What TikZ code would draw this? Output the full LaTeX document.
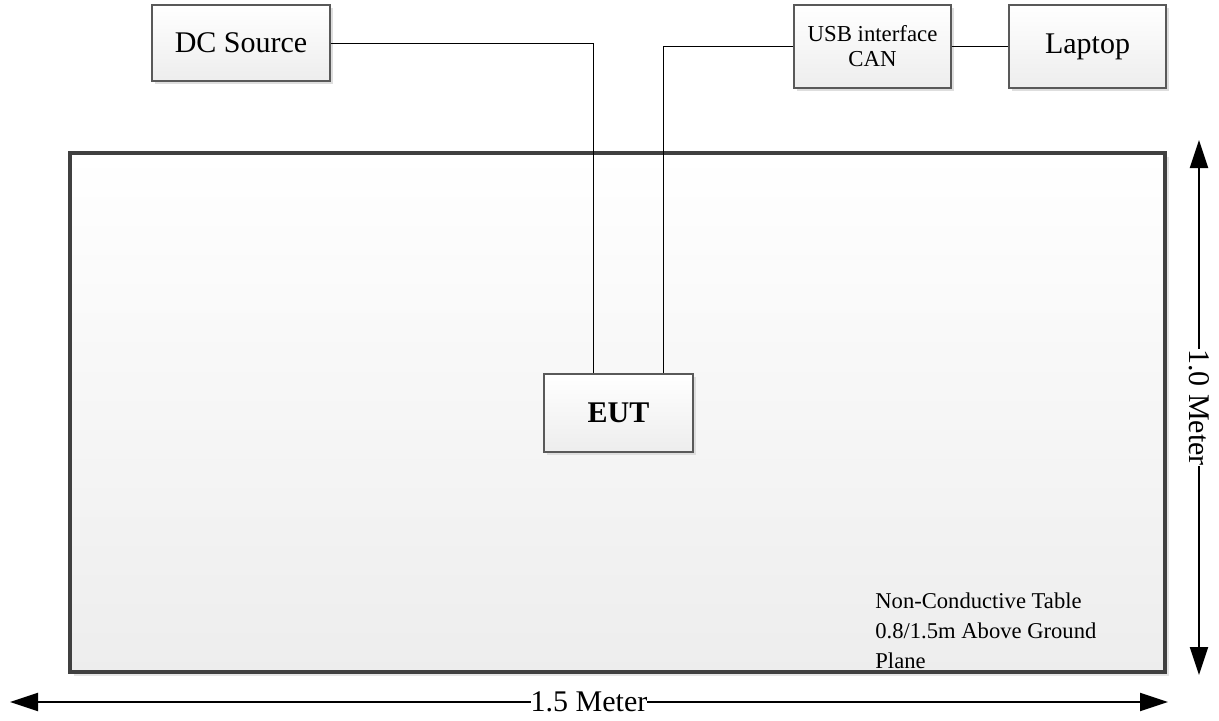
\documentclass[tikz,border=0pt]{standalone}
\usepackage{fontspec}
\setmainfont{Liberation Serif}
\usetikzlibrary{shadows,arrows.meta}

\begin{document}
\begin{tikzpicture}[x=0.5pt,y=-0.5pt,
    unit/.style={draw=black!65,line width=0.6pt,top color=white,bottom color=black!7,
        drop shadow={fill=black!13,opacity=1,shadow xshift=1.5pt,shadow yshift=-1.5pt},
        inner sep=0pt,align=center},
    big/.style={font=\fontsize{15}{18}\selectfont},
    wire/.style={line width=0.5pt},
    dim/.style={line width=1pt,{Triangle[length=14pt,width=9pt]}-{Triangle[length=14pt,width=9pt]}},
    lbl/.style={fill=white,inner sep=0pt,font=\fontsize{15}{18}\selectfont}]
    \useasboundingbox (0,0) rectangle (1219,720);

    % test table
    \node[draw=black!75,line width=2pt,top color=white,bottom color=black!7,
        drop shadow={fill=black!10,opacity=1,shadow xshift=2pt,shadow yshift=-2pt},
        minimum width=547.5pt,minimum height=259.5pt,inner sep=0pt] (table) at (617.5,412.5) {};
    \node[anchor=north west,inner sep=0pt,align=left,font=\fontsize{11.3}{15}\selectfont]
        (note) at (875,592) {Non-Conductive Table\\0.8/1.5m Above Ground\\Plane};

    % units
    \node[unit,big,minimum width=89pt,minimum height=38pt] (dc) at (241,43) {DC Source};
    \node[unit,font=\fontsize{11.4}{12.5}\selectfont,minimum width=78.5pt,minimum height=41.5pt]
        (usb) at (872.5,46.5) {USB interface\\CAN};
    \node[unit,big,minimum width=78.5pt,minimum height=41.5pt] (laptop) at (1087.5,46.5) {Laptop};
    \node[unit,big,minimum width=74.5pt,minimum height=39pt] (eut) at (618.5,413) {\textbf{EUT}};

    \draw[wire] (dc.east) -| ([xshift=-12.75pt]eut.north);
    \draw[wire] (usb.west) -| ([xshift=22.25pt]eut.north);
    \draw[wire] (usb.east) -- (laptop.west);

    % dimensions
    \coordinate (wl) at (10,702);
    \coordinate (wr) at (1168,702);
    \coordinate (ht) at (1199,140);
    \coordinate (hb) at (1199,675);
    \draw[dim] (wl) -- node[lbl] (wlab) {1.5 Meter} (wr);
    \draw[dim] (ht) -- node[lbl,rotate=-90] (hlab) {1.0 Meter} (hb);
\end{tikzpicture}
\end{document}
